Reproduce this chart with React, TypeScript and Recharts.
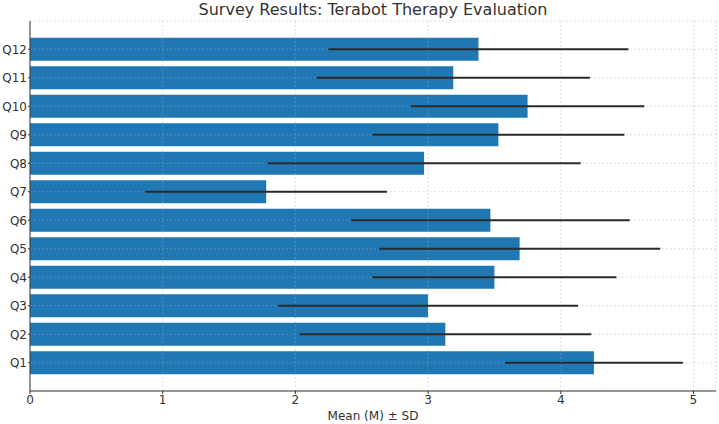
import { BarChart, Bar, XAxis, YAxis, CartesianGrid, ErrorBar } from "recharts";

const questions = ["Q1", "Q2", "Q3", "Q4", "Q5", "Q6", "Q7", "Q8", "Q9", "Q10", "Q11", "Q12"];
const means = [4.25, 3.13, 3.0, 3.5, 3.69, 3.47, 1.78, 2.97, 3.53, 3.75, 3.19, 3.38];
const sds = [0.67, 1.1, 1.13, 0.92, 1.06, 1.05, 0.91, 1.18, 0.95, 0.88, 1.03, 1.13];
const xTicks = [0, 1, 2, 3, 4, 5];

// Q12 on top, like matplotlib barh
const data = questions
  .map((q, i) => ({ question: q, mean: means[i], sd: sds[i] }))
  .reverse();

const font = "DejaVu Sans, sans-serif";

export default function App() {
  return (
    <div style={{ position: "absolute", top: 0, left: 0, fontFamily: font }}>
      <div
        style={{
          position: "absolute",
          top: 0,
          left: 30,
          width: 686,
          textAlign: "center",
          fontSize: 16,
          color: "#333",
          lineHeight: "20px",
          marginTop: 0,
        }}
      >
        Survey Results: Terabot Therapy Evaluation
      </div>
      <BarChart
        width={719}
        height={424}
        data={data}
        layout="vertical"
        margin={{ top: 21, right: 3, bottom: 0, left: 0 }}
        barCategoryGap="10%"
      >
        <XAxis
          type="number"
          domain={[0, 5.17]}
          ticks={xTicks}
          allowDataOverflow
          tick={{ fontSize: 12, fill: "#333", fontFamily: font }}
          tickSize={3}
          tickMargin={1}
          stroke="#333"
          height={33}
          label={{
            value: "Mean (M) ± SD",
            position: "insideBottom",
            offset: 4,
            fontSize: 12,
            fill: "#333",
            fontFamily: font,
          }}
        />
        <YAxis
          type="category"
          dataKey="question"
          width={30}
          padding={{ top: 14, bottom: 14 }}
          tick={{ fontSize: 12, fill: "#333", fontFamily: font }}
          tickSize={2}
          tickMargin={1}
          stroke="#333"
        />
        <Bar dataKey="mean" fill="#1f77b4" isAnimationActive={false}>
          <ErrorBar
            dataKey="sd"
            direction="x"
            width={0}
            stroke="#2a2a2a"
            strokeWidth={2}
          />
        </Bar>
        <CartesianGrid
          stroke="#b0b0b0"
          strokeOpacity={0.4}
          strokeDasharray="2 2"
          zIndex={350}
        />
      </BarChart>
    </div>
  );
}
